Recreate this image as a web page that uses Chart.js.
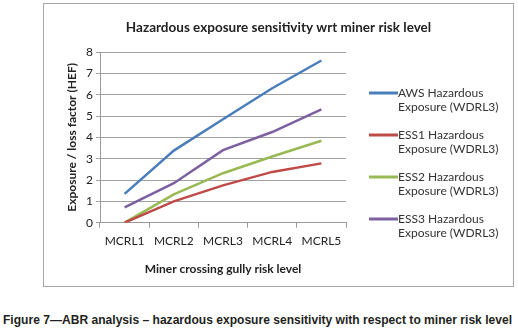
<!DOCTYPE html>
<html>
<head>
<meta charset="utf-8">
<script src="https://cdn.jsdelivr.net/npm/chart.js@4.4.1/dist/chart.umd.min.js"></script>
<style>
  body { margin: 0; background: #fff; }
  #wrap { position: relative; width: 518px; height: 335px; }
  #box { position: absolute; left: 43px; top: 3px; width: 469px; height: 282px; border: 1px solid #a6a6a6; }
  #caption {
    position: absolute; left: 3px; top: 312px; white-space: nowrap;
    font: bold 13px "Liberation Sans Narrow", "Liberation Sans", Arial, sans-serif;
    color: #231f20; transform-origin: 0 0;
  }
</style>
</head>
<body>
<div id="wrap">
  <div id="box"><canvas id="riskChart" width="469" height="282"></canvas></div>
  <div id="caption">Figure 7—ABR analysis – hazardous exposure sensitivity with respect to miner risk level</div>
</div>
<script>
// categories and series
var levels = ["MCRL1", "MCRL2", "MCRL3", "MCRL4", "MCRL5"];
var awsValues = [1.35, 3.38, 4.85, 6.3, 7.6];
var ess1Values = [0, 1.0, 1.75, 2.38, 2.78];
var ess2Values = [0, 1.33, 2.32, 3.1, 3.84];
var ess3Values = [0.72, 1.85, 3.4, 4.25, 5.31];
var yTicks = [0, 1, 2, 3, 4, 5, 6, 7, 8];

var seriesNames = [
  ["AWS Hazardous", "Exposure (WDRL3)"],
  ["ESS1 Hazardous", "Exposure (WDRL3)"],
  ["ESS2 Hazardous", "Exposure (WDRL3)"],
  ["ESS3 Hazardous", "Exposure (WDRL3)"]
];
var seriesColors = ["#4a7ebb", "#be4b48", "#98b954", "#7d60a0"];
var seriesValues = [awsValues, ess1Values, ess2Values, ess3Values];

var chartTitle = "Hazardous exposure sensitivity wrt miner risk level";
var fontFamily = "Lato, 'Open Sans', sans-serif";

// title centred on the whole box + legend with two-line labels (Excel style)
var boxDecor = {
  id: "boxDecor",
  afterDraw: function (chart) {
    var ctx = chart.ctx;
    ctx.save();
    ctx.fillStyle = "#222";
    ctx.textAlign = "center";
    ctx.textBaseline = "middle";
    ctx.font = "bold 13.5px " + fontFamily;
    ctx.fillText(chartTitle, chart.width / 2, 24);

    ctx.textAlign = "left";
    ctx.font = "12px " + fontFamily;
    ctx.fillStyle = "#333";
    chart.data.datasets.forEach(function (ds, i) {
      var y = 89 + i * 42;
      ctx.strokeStyle = ds.borderColor;
      ctx.lineWidth = 3;
      ctx.beginPath();
      ctx.moveTo(325, y);
      ctx.lineTo(354, y);
      ctx.stroke();
      ds.label.forEach(function (line, j) {
        ctx.fillText(line, 354, y + j * 14);
      });
    });
    ctx.restore();
  }
};

var ctx = document.getElementById("riskChart").getContext("2d");

var riskChart = new Chart(ctx, {
  type: "line",
  data: {
    labels: levels,
    datasets: seriesValues.map(function (vals, i) {
      return {
        label: seriesNames[i],
        data: vals,
        borderColor: seriesColors[i],
        backgroundColor: seriesColors[i],
        borderWidth: 2.5,
        pointRadius: 0,
        tension: 0,
        fill: false
      };
    })
  },
  options: {
    responsive: false,
    animation: false,
    layout: { padding: { left: 12, right: 167, top: 48, bottom: 10 } },
    plugins: {
      legend: { display: false },
      tooltip: { enabled: false },
      title: { display: false }
    },
    scales: {
      x: {
        offset: true,
        grid: { display: true, drawOnChartArea: false, drawTicks: true, tickLength: 5, offset: true, color: "#9a9a9a" },
        border: { display: true, color: "#9a9a9a" },
        ticks: { color: "#222", padding: 6, font: { family: fontFamily, size: 12 }, maxRotation: 0 },
        title: {
          display: true,
          text: "Miner crossing gully risk level",
          color: "#222",
          font: { family: fontFamily, size: 12, weight: "bold" },
          padding: { top: 7, bottom: 0 }
        },
        afterFit: function (scale) { scale.height = 53.3; }
      },
      y: {
        min: 0,
        max: 8,
        afterBuildTicks: function (scale) {
          scale.ticks = yTicks.map(function (v) { return { value: v }; });
        },
        grid: { color: "#a0a0a0", tickLength: 4, lineWidth: 1 },
        border: { display: true, color: "#9a9a9a" },
        ticks: { color: "#222", padding: 3, font: { family: fontFamily, size: 12 } },
        title: {
          display: true,
          text: "Exposure / loss factor (HEF)",
          color: "#222",
          font: { family: fontFamily, size: 12, weight: "bold" },
          padding: { top: 9, bottom: 0 }
        },
        afterFit: function (scale) { scale.width = 44; }
      }
    }
  },
  plugins: [boxDecor]
});

// squeeze the caption to the width it has in the figure
var cap = document.getElementById("caption");
var w = cap.getBoundingClientRect().width;
cap.style.transform = "scaleX(" + (509 / w) + ")";
</script>
</body>
</html>
